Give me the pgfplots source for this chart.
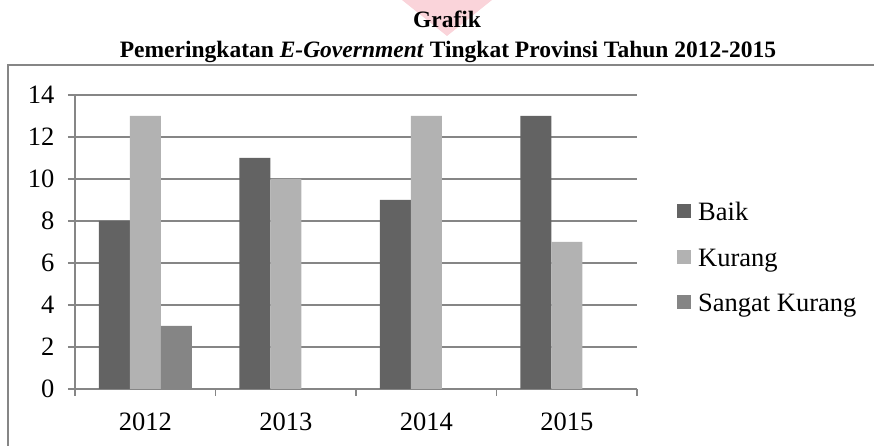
\documentclass[border=0pt]{standalone}
\usepackage{fontspec}
\setmainfont{Liberation Serif}
\usepackage{pgfplots}
\pgfplotsset{compat=1.18}
\definecolor{baik}{RGB}{99,99,99}
\definecolor{kurang}{RGB}{178,178,178}
\definecolor{sangat}{RGB}{133,133,133}
\definecolor{gridc}{RGB}{134,134,134}
\definecolor{wm}{RGB}{250,212,218}

\begin{document}
\begin{tikzpicture}[x=1pt,y=1pt]
  \useasboundingbox (0pt,0pt) rectangle (874pt,446pt);
  % faint watermark at the top
  \fill[wm] (402pt,446pt) -- (492pt,446pt) -- (447pt,410pt) -- cycle;
  \node[font=\fontsize{23.5}{28}\selectfont\bfseries, anchor=base] at (447pt,418pt) {Grafik};
  \node[font=\fontsize{23.5}{28}\selectfont\bfseries, anchor=base] at (448pt,388pt)
    {Pemeringkatan \textit{E-Government} Tingkat Provinsi Tahun 2012-2015};
  % chart frame
  \draw[gridc, line width=1.2pt] (8pt,-10pt) -- (8pt,381pt) -- (890pt,381pt);

  \begin{axis}[
      at={(145.25pt,57pt)}, anchor=origin,
      scale only axis,
      width=562pt, height=294pt,
      ybar=0pt, bar width=31pt,
      xmin=-0.5, xmax=3.5,
      ymin=0, ymax=14,
      ytick={0,2,...,14},
      xtick={-0.5,0.5,1.5,2.5,3.5},
      xticklabels={2012,2013,2014,2015},
      x tick label as interval,
      axis lines*=left,
      axis line style={gridc, line width=1.2pt},
      ymajorgrids,
      grid style={gridc, line width=1.2pt},
      tick align=outside,
      major tick length=7pt,
      tick style={gridc, line width=1.2pt},
      ticklabel style={font=\fontsize{26.5}{30}\selectfont, text=black},
      yticklabel style={xshift=-10pt},
      xticklabel style={yshift=-13pt},
      /pgf/number format/assume math mode=true,
      legend style={at={(1,0.5)}, anchor=west, xshift=37pt, yshift=-16pt,
        draw=none, fill=none, row sep=22.5pt, column sep=5pt,
        font=\fontsize{26.5}{30}\selectfont},
      legend cell align=left,
      legend image code/.code={\fill[#1] (0pt,-5.5pt) rectangle (14pt,8.5pt);},
    ]
    \addplot[fill=baik, draw=none] coordinates {(0,8) (1,11) (2,9) (3,13)};
    \addlegendentry{Baik}
    \addplot[fill=kurang, draw=none] coordinates {(0,13) (1,10) (2,13) (3,7)};
    \addlegendentry{Kurang}
    \addplot[fill=sangat, draw=none] coordinates {(0,3) (1,0) (2,0) (3,0)};
    \addlegendentry{Sangat Kurang}
  \end{axis}
\end{tikzpicture}
\end{document}
